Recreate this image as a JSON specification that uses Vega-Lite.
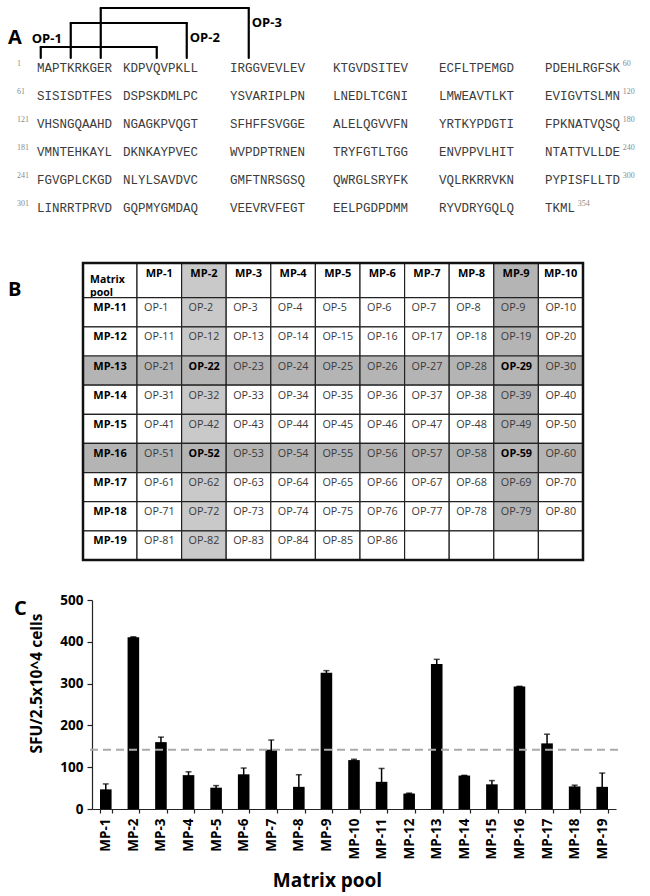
{
  "$schema": "https://vega.github.io/schema/vega-lite/v6.json",
  "width": 650,
  "height": 896,
  "autosize": "none",
  "padding": 0,
  "background": "white",
  "config": {"view": {"stroke": null}, "axis": {"grid": false}, "text": {"font": "Open Sans"}},
  "datasets": {
    "panels": [{"panel": "A", "order": 1}, {"panel": "B", "order": 2}, {"panel": "C", "order": 3}],
    "seq": [
      {"line": 0, "pos": 1, "seq": "MAPTKRKGER"}, {"line": 0, "pos": 11, "seq": "KDPVQVPKLL"}, {"line": 0, "pos": 21, "seq": "IRGGVEVLEV"}, {"line": 0, "pos": 31, "seq": "KTGVDSITEV"}, {"line": 0, "pos": 41, "seq": "ECFLTPEMGD"}, {"line": 0, "pos": 51, "seq": "PDEHLRGFSK"},
      {"line": 1, "pos": 1, "seq": "SISISDTFES"}, {"line": 1, "pos": 11, "seq": "DSPSKDMLPC"}, {"line": 1, "pos": 21, "seq": "YSVARIPLPN"}, {"line": 1, "pos": 31, "seq": "LNEDLTCGNI"}, {"line": 1, "pos": 41, "seq": "LMWEAVTLKT"}, {"line": 1, "pos": 51, "seq": "EVIGVTSLMN"},
      {"line": 2, "pos": 1, "seq": "VHSNGQAAHD"}, {"line": 2, "pos": 11, "seq": "NGAGKPVQGT"}, {"line": 2, "pos": 21, "seq": "SFHFFSVGGE"}, {"line": 2, "pos": 31, "seq": "ALELQGVVFN"}, {"line": 2, "pos": 41, "seq": "YRTKYPDGTI"}, {"line": 2, "pos": 51, "seq": "FPKNATVQSQ"},
      {"line": 3, "pos": 1, "seq": "VMNTEHKAYL"}, {"line": 3, "pos": 11, "seq": "DKNKAYPVEC"}, {"line": 3, "pos": 21, "seq": "WVPDPTRNEN"}, {"line": 3, "pos": 31, "seq": "TRYFGTLTGG"}, {"line": 3, "pos": 41, "seq": "ENVPPVLHIT"}, {"line": 3, "pos": 51, "seq": "NTATTVLLDE"},
      {"line": 4, "pos": 1, "seq": "FGVGPLCKGD"}, {"line": 4, "pos": 11, "seq": "NLYLSAVDVC"}, {"line": 4, "pos": 21, "seq": "GMFTNRSGSQ"}, {"line": 4, "pos": 31, "seq": "QWRGLSRYFK"}, {"line": 4, "pos": 41, "seq": "VQLRKRRVKN"}, {"line": 4, "pos": 51, "seq": "PYPISFLLTD"},
      {"line": 5, "pos": 1, "seq": "LINRRTPRVD"}, {"line": 5, "pos": 11, "seq": "GQPMYGMDAQ"}, {"line": 5, "pos": 21, "seq": "VEEVRVFEGT"}, {"line": 5, "pos": 31, "seq": "EELPGDPDMM"}, {"line": 5, "pos": 41, "seq": "RYVDRYGQLQ"}, {"line": 5, "pos": 51, "seq": "TKML"}
    ],
    "nums": [
      {"line": 0, "pos": 1, "num": "1", "side": "start"}, {"line": 0, "pos": 61, "num": "60", "side": "end"},
      {"line": 1, "pos": 1, "num": "61", "side": "start"}, {"line": 1, "pos": 61, "num": "120", "side": "end"},
      {"line": 2, "pos": 1, "num": "121", "side": "start"}, {"line": 2, "pos": 61, "num": "180", "side": "end"},
      {"line": 3, "pos": 1, "num": "181", "side": "start"}, {"line": 3, "pos": 61, "num": "240", "side": "end"},
      {"line": 4, "pos": 1, "num": "241", "side": "start"}, {"line": 4, "pos": 61, "num": "300", "side": "end"},
      {"line": 5, "pos": 1, "num": "301", "side": "start"}, {"line": 5, "pos": 55, "num": "354", "side": "end"}
    ],
    "peps": [
      {"op": "OP-1", "start": 1, "end": 15, "level": 1},
      {"op": "OP-2", "start": 5, "end": 19, "level": 2},
      {"op": "OP-3", "start": 9, "end": 23, "level": 3}
    ],
    "corner": [{"r": "Matrix pool", "c": "Matrix pool", "text": ["Matrix", "pool"]}],
    "colheads": [
      {"r": "Matrix pool", "c": "MP-1"}, {"r": "Matrix pool", "c": "MP-2"}, {"r": "Matrix pool", "c": "MP-3"}, {"r": "Matrix pool", "c": "MP-4"}, {"r": "Matrix pool", "c": "MP-5"},
      {"r": "Matrix pool", "c": "MP-6"}, {"r": "Matrix pool", "c": "MP-7"}, {"r": "Matrix pool", "c": "MP-8"}, {"r": "Matrix pool", "c": "MP-9"}, {"r": "Matrix pool", "c": "MP-10"}
    ],
    "rowheads": [
      {"r": "MP-11", "c": "Matrix pool"}, {"r": "MP-12", "c": "Matrix pool"}, {"r": "MP-13", "c": "Matrix pool"}, {"r": "MP-14", "c": "Matrix pool"}, {"r": "MP-15", "c": "Matrix pool"},
      {"r": "MP-16", "c": "Matrix pool"}, {"r": "MP-17", "c": "Matrix pool"}, {"r": "MP-18", "c": "Matrix pool"}, {"r": "MP-19", "c": "Matrix pool"}
    ],
    "body": [
      {"r": "MP-11", "c": "MP-1", "op": "OP-1"}, {"r": "MP-11", "c": "MP-2", "op": "OP-2"}, {"r": "MP-11", "c": "MP-3", "op": "OP-3"}, {"r": "MP-11", "c": "MP-4", "op": "OP-4"}, {"r": "MP-11", "c": "MP-5", "op": "OP-5"}, {"r": "MP-11", "c": "MP-6", "op": "OP-6"}, {"r": "MP-11", "c": "MP-7", "op": "OP-7"}, {"r": "MP-11", "c": "MP-8", "op": "OP-8"}, {"r": "MP-11", "c": "MP-9", "op": "OP-9"}, {"r": "MP-11", "c": "MP-10", "op": "OP-10"},
      {"r": "MP-12", "c": "MP-1", "op": "OP-11"}, {"r": "MP-12", "c": "MP-2", "op": "OP-12"}, {"r": "MP-12", "c": "MP-3", "op": "OP-13"}, {"r": "MP-12", "c": "MP-4", "op": "OP-14"}, {"r": "MP-12", "c": "MP-5", "op": "OP-15"}, {"r": "MP-12", "c": "MP-6", "op": "OP-16"}, {"r": "MP-12", "c": "MP-7", "op": "OP-17"}, {"r": "MP-12", "c": "MP-8", "op": "OP-18"}, {"r": "MP-12", "c": "MP-9", "op": "OP-19"}, {"r": "MP-12", "c": "MP-10", "op": "OP-20"},
      {"r": "MP-13", "c": "MP-1", "op": "OP-21"}, {"r": "MP-13", "c": "MP-2", "op": "OP-22"}, {"r": "MP-13", "c": "MP-3", "op": "OP-23"}, {"r": "MP-13", "c": "MP-4", "op": "OP-24"}, {"r": "MP-13", "c": "MP-5", "op": "OP-25"}, {"r": "MP-13", "c": "MP-6", "op": "OP-26"}, {"r": "MP-13", "c": "MP-7", "op": "OP-27"}, {"r": "MP-13", "c": "MP-8", "op": "OP-28"}, {"r": "MP-13", "c": "MP-9", "op": "OP-29"}, {"r": "MP-13", "c": "MP-10", "op": "OP-30"},
      {"r": "MP-14", "c": "MP-1", "op": "OP-31"}, {"r": "MP-14", "c": "MP-2", "op": "OP-32"}, {"r": "MP-14", "c": "MP-3", "op": "OP-33"}, {"r": "MP-14", "c": "MP-4", "op": "OP-34"}, {"r": "MP-14", "c": "MP-5", "op": "OP-35"}, {"r": "MP-14", "c": "MP-6", "op": "OP-36"}, {"r": "MP-14", "c": "MP-7", "op": "OP-37"}, {"r": "MP-14", "c": "MP-8", "op": "OP-38"}, {"r": "MP-14", "c": "MP-9", "op": "OP-39"}, {"r": "MP-14", "c": "MP-10", "op": "OP-40"},
      {"r": "MP-15", "c": "MP-1", "op": "OP-41"}, {"r": "MP-15", "c": "MP-2", "op": "OP-42"}, {"r": "MP-15", "c": "MP-3", "op": "OP-43"}, {"r": "MP-15", "c": "MP-4", "op": "OP-44"}, {"r": "MP-15", "c": "MP-5", "op": "OP-45"}, {"r": "MP-15", "c": "MP-6", "op": "OP-46"}, {"r": "MP-15", "c": "MP-7", "op": "OP-47"}, {"r": "MP-15", "c": "MP-8", "op": "OP-48"}, {"r": "MP-15", "c": "MP-9", "op": "OP-49"}, {"r": "MP-15", "c": "MP-10", "op": "OP-50"},
      {"r": "MP-16", "c": "MP-1", "op": "OP-51"}, {"r": "MP-16", "c": "MP-2", "op": "OP-52"}, {"r": "MP-16", "c": "MP-3", "op": "OP-53"}, {"r": "MP-16", "c": "MP-4", "op": "OP-54"}, {"r": "MP-16", "c": "MP-5", "op": "OP-55"}, {"r": "MP-16", "c": "MP-6", "op": "OP-56"}, {"r": "MP-16", "c": "MP-7", "op": "OP-57"}, {"r": "MP-16", "c": "MP-8", "op": "OP-58"}, {"r": "MP-16", "c": "MP-9", "op": "OP-59"}, {"r": "MP-16", "c": "MP-10", "op": "OP-60"},
      {"r": "MP-17", "c": "MP-1", "op": "OP-61"}, {"r": "MP-17", "c": "MP-2", "op": "OP-62"}, {"r": "MP-17", "c": "MP-3", "op": "OP-63"}, {"r": "MP-17", "c": "MP-4", "op": "OP-64"}, {"r": "MP-17", "c": "MP-5", "op": "OP-65"}, {"r": "MP-17", "c": "MP-6", "op": "OP-66"}, {"r": "MP-17", "c": "MP-7", "op": "OP-67"}, {"r": "MP-17", "c": "MP-8", "op": "OP-68"}, {"r": "MP-17", "c": "MP-9", "op": "OP-69"}, {"r": "MP-17", "c": "MP-10", "op": "OP-70"},
      {"r": "MP-18", "c": "MP-1", "op": "OP-71"}, {"r": "MP-18", "c": "MP-2", "op": "OP-72"}, {"r": "MP-18", "c": "MP-3", "op": "OP-73"}, {"r": "MP-18", "c": "MP-4", "op": "OP-74"}, {"r": "MP-18", "c": "MP-5", "op": "OP-75"}, {"r": "MP-18", "c": "MP-6", "op": "OP-76"}, {"r": "MP-18", "c": "MP-7", "op": "OP-77"}, {"r": "MP-18", "c": "MP-8", "op": "OP-78"}, {"r": "MP-18", "c": "MP-9", "op": "OP-79"}, {"r": "MP-18", "c": "MP-10", "op": "OP-80"},
      {"r": "MP-19", "c": "MP-1", "op": "OP-81"}, {"r": "MP-19", "c": "MP-2", "op": "OP-82"}, {"r": "MP-19", "c": "MP-3", "op": "OP-83"}, {"r": "MP-19", "c": "MP-4", "op": "OP-84"}, {"r": "MP-19", "c": "MP-5", "op": "OP-85"}, {"r": "MP-19", "c": "MP-6", "op": "OP-86"}, {"r": "MP-19", "c": "MP-7", "op": ""}, {"r": "MP-19", "c": "MP-8", "op": ""}, {"r": "MP-19", "c": "MP-9", "op": ""}, {"r": "MP-19", "c": "MP-10", "op": ""}
    ],
    "pools": [
      {"pool": "MP-1", "sfu": 47, "sd": 13}, {"pool": "MP-2", "sfu": 411, "sd": 1}, {"pool": "MP-3", "sfu": 160, "sd": 12},
      {"pool": "MP-4", "sfu": 81, "sd": 8}, {"pool": "MP-5", "sfu": 51, "sd": 5}, {"pool": "MP-6", "sfu": 83, "sd": 15},
      {"pool": "MP-7", "sfu": 142, "sd": 23}, {"pool": "MP-8", "sfu": 53, "sd": 29}, {"pool": "MP-9", "sfu": 326, "sd": 5},
      {"pool": "MP-10", "sfu": 117, "sd": 2}, {"pool": "MP-11", "sfu": 65, "sd": 32}, {"pool": "MP-12", "sfu": 37, "sd": 1},
      {"pool": "MP-13", "sfu": 347, "sd": 11}, {"pool": "MP-14", "sfu": 80, "sd": 0.5}, {"pool": "MP-15", "sfu": 59, "sd": 9},
      {"pool": "MP-16", "sfu": 293, "sd": 0.5}, {"pool": "MP-17", "sfu": 157, "sd": 22}, {"pool": "MP-18", "sfu": 54, "sd": 3},
      {"pool": "MP-19", "sfu": 53, "sd": 33}
    ],
    "threshold": [{"cutoff": 142}],
    "frame": [{"table": "matrix"}]
  },
  "layer": [
    {
      "data": {"name": "panels"},
      "mark": {"type": "text", "font": "Open Sans", "fontWeight": "bold", "fontSize": 20, "align": "left", "baseline": "middle", "color": "black"},
      "encoding": {
        "x": {"field": "order", "type": "quantitative", "scale": {"domain": [1, 2, 3], "range": [8, 8, 14], "nice": false, "zero": false}, "axis": null},
        "y": {"field": "order", "type": "quantitative", "scale": {"domain": [1, 2, 3], "range": [38, 290, 609], "nice": false, "zero": false}, "axis": null},
        "text": {"field": "panel"}
      }
    },
    {
      "encoding": {
        "x": {"field": "pos", "type": "quantitative", "scale": {"domain": [1, 10, 11, 20, 21, 30, 31, 40, 41, 50, 51, 61], "range": [40.75, 108.25, 126.75, 194.25, 233.75, 301.25, 336.75, 404.25, 442.75, 510.25, 548.75, 623.75], "nice": false, "zero": false}, "axis": null},
        "y": {"field": "line", "type": "quantitative", "scale": {"domain": [0, 5], "range": [68, 208], "nice": false, "zero": false}, "axis": null}
      },
      "layer": [
        {
          "data": {"name": "seq"},
          "mark": {"type": "text", "font": "Liberation Mono", "fontSize": 12.5, "align": "left", "baseline": "middle", "dx": -3.75, "color": "#3c3c3c"},
          "encoding": {"text": {"field": "seq"}}
        },
        {
          "data": {"name": "nums"},
          "transform": [{"filter": "datum.side == 'start'"}],
          "mark": {"type": "text", "font": "Liberation Serif", "fontSize": 8, "align": "left", "baseline": "middle", "dx": -23.75, "dy": -4, "color": "#8a8a8a"},
          "encoding": {"text": {"field": "num"}}
        },
        {
          "data": {"name": "nums"},
          "transform": [{"filter": "datum.side == 'end'"}],
          "mark": {"type": "text", "font": "Liberation Serif", "fontSize": 8, "align": "left", "baseline": "middle", "dx": -1, "dy": -4, "color": "#8a8a8a"},
          "encoding": {"text": {"field": "num"}}
        }
      ]
    },
    {
      "data": {"name": "peps"},
      "encoding": {
        "y": {"field": "level", "type": "quantitative", "scale": {"domain": [0, 1, 2, 3], "range": [58, 47, 23, 8], "nice": false, "zero": false}, "axis": null}
      },
      "layer": [
        {
          "mark": {"type": "rule", "color": "black", "strokeWidth": 2.2, "strokeCap": "round"},
          "encoding": {
            "x": {"field": "start", "type": "quantitative", "scale": {"domain": [1, 10, 11, 20, 21, 30, 31, 40, 41, 50, 51, 61], "range": [40.75, 108.25, 126.75, 194.25, 233.75, 301.25, 336.75, 404.25, 442.75, 510.25, 548.75, 623.75], "nice": false, "zero": false}, "axis": null},
            "y2": {"datum": 0}
          }
        },
        {
          "mark": {"type": "rule", "color": "black", "strokeWidth": 2.2, "strokeCap": "round"},
          "encoding": {
            "x": {"field": "end", "type": "quantitative", "axis": null},
            "y2": {"datum": 0}
          }
        },
        {
          "mark": {"type": "rule", "color": "black", "strokeWidth": 2.2, "strokeCap": "round"},
          "encoding": {
            "x": {"field": "start", "type": "quantitative", "axis": null},
            "x2": {"field": "end"}
          }
        },
        {
          "transform": [{"filter": "datum.op == 'OP-1'"}],
          "mark": {"type": "text", "font": "Open Sans", "fontWeight": "bold", "fontSize": 13, "align": "left", "baseline": "middle", "dx": -9, "dy": -8, "color": "black"},
          "encoding": {
            "x": {"field": "start", "type": "quantitative", "axis": null},
            "text": {"field": "op"}
          }
        },
        {
          "transform": [{"filter": "datum.op != 'OP-1'"}],
          "mark": {"type": "text", "font": "Open Sans", "fontWeight": "bold", "fontSize": 13, "align": "left", "baseline": "middle", "dx": 3, "dy": 15, "color": "black"},
          "encoding": {
            "x": {"field": "end", "type": "quantitative", "axis": null},
            "text": {"field": "op"}
          }
        }
      ]
    },
    {
      "data": {"name": "corner"},
      "encoding": {
        "x": {"field": "c", "type": "nominal", "scale": {"type": "band", "domain": ["Matrix pool"], "range": [83, 137], "paddingInner": 0, "paddingOuter": 0}, "axis": null},
        "y": {"field": "r", "type": "nominal", "scale": {"type": "band", "domain": ["Matrix pool"], "range": [263, 297.7], "paddingInner": 0, "paddingOuter": 0}, "axis": null}
      },
      "layer": [
        {"mark": {"type": "rect", "fill": "white", "stroke": "#222222", "strokeWidth": 1.2}},
        {
          "mark": {"type": "text", "font": "Open Sans", "fontWeight": "bold", "fontSize": 10.5, "align": "left", "baseline": "middle", "dx": 7, "lineHeight": 13, "color": "black"},
          "encoding": {"x": {"field": "c", "type": "nominal", "bandPosition": 0}, "text": {"field": "text"}}
        }
      ]
    },
    {
      "data": {"name": "colheads"},
      "encoding": {
        "x": {"field": "c", "type": "nominal", "sort": null, "scale": {"type": "band", "domain": ["MP-1", "MP-2", "MP-3", "MP-4", "MP-5", "MP-6", "MP-7", "MP-8", "MP-9", "MP-10"], "range": [137, 583], "paddingInner": 0, "paddingOuter": 0}, "axis": null},
        "y": {"field": "r", "type": "nominal", "scale": {"type": "band", "domain": ["Matrix pool"], "range": [263, 297.7], "paddingInner": 0, "paddingOuter": 0}, "axis": null}
      },
      "layer": [
        {
          "mark": {"type": "rect", "stroke": "#222222", "strokeWidth": 1.2},
          "encoding": {"fill": {"condition": [{"test": "datum.c == 'MP-2'", "value": "#c9c9c9"}, {"test": "datum.c == 'MP-9'", "value": "#b4b4b4"}], "value": "white"}}
        },
        {
          "mark": {"type": "text", "font": "Open Sans", "fontWeight": "bold", "fontSize": 11, "align": "center", "baseline": "middle", "dy": -6.5, "color": "black"},
          "encoding": {"text": {"field": "c"}}
        }
      ]
    },
    {
      "data": {"name": "rowheads"},
      "encoding": {
        "x": {"field": "c", "type": "nominal", "scale": {"type": "band", "domain": ["Matrix pool"], "range": [83, 137], "paddingInner": 0, "paddingOuter": 0}, "axis": null},
        "y": {"field": "r", "type": "nominal", "sort": null, "scale": {"type": "band", "domain": ["MP-11", "MP-12", "MP-13", "MP-14", "MP-15", "MP-16", "MP-17", "MP-18", "MP-19"], "range": [297.7, 560], "paddingInner": 0, "paddingOuter": 0}, "axis": null}
      },
      "layer": [
        {
          "mark": {"type": "rect", "stroke": "#222222", "strokeWidth": 1.2},
          "encoding": {"fill": {"condition": [{"test": "datum.r == 'MP-13' || datum.r == 'MP-16'", "value": "#b4b4b4"}], "value": "white"}}
        },
        {
          "mark": {"type": "text", "font": "Open Sans", "fontWeight": "bold", "fontSize": 11, "align": "center", "baseline": "middle", "dy": -4, "color": "black"},
          "encoding": {"text": {"field": "r"}}
        }
      ]
    },
    {
      "data": {"name": "body"},
      "encoding": {
        "x": {"field": "c", "type": "nominal", "sort": null, "scale": {"type": "band", "domain": ["MP-1", "MP-2", "MP-3", "MP-4", "MP-5", "MP-6", "MP-7", "MP-8", "MP-9", "MP-10"], "range": [137, 583], "paddingInner": 0, "paddingOuter": 0}, "axis": null},
        "y": {"field": "r", "type": "nominal", "sort": null, "scale": {"type": "band", "domain": ["MP-11", "MP-12", "MP-13", "MP-14", "MP-15", "MP-16", "MP-17", "MP-18", "MP-19"], "range": [297.7, 560], "paddingInner": 0, "paddingOuter": 0}, "axis": null}
      },
      "layer": [
        {
          "mark": {"type": "rect", "stroke": "#222222", "strokeWidth": 1.2},
          "encoding": {"fill": {"condition": [
            {"test": "datum.r == 'MP-13' || datum.r == 'MP-16'", "value": "#b4b4b4"},
            {"test": "datum.c == 'MP-9' && datum.op != ''", "value": "#b4b4b4"},
            {"test": "datum.c == 'MP-2' && datum.op != ''", "value": "#c9c9c9"}
          ], "value": "white"}}
        },
        {
          "transform": [{"filter": "!((datum.r == 'MP-13' || datum.r == 'MP-16') && (datum.c == 'MP-2' || datum.c == 'MP-9'))"}],
          "mark": {"type": "text", "font": "Open Sans", "fontSize": 10.8, "align": "left", "baseline": "middle", "dx": 7, "dy": -4, "color": "#3a3a3a"},
          "encoding": {"x": {"field": "c", "type": "nominal", "bandPosition": 0}, "text": {"field": "op"}}
        },
        {
          "transform": [{"filter": "(datum.r == 'MP-13' || datum.r == 'MP-16') && (datum.c == 'MP-2' || datum.c == 'MP-9')"}],
          "mark": {"type": "text", "font": "Open Sans", "fontWeight": "bold", "fontSize": 10.8, "align": "left", "baseline": "middle", "dx": 7, "dy": -4, "color": "black"},
          "encoding": {"x": {"field": "c", "type": "nominal", "bandPosition": 0}, "text": {"field": "op"}}
        }
      ]
    },
    {
      "data": {"name": "frame"},
      "mark": {"type": "rect", "fill": null, "fillOpacity": 0, "stroke": "#111111", "strokeWidth": 2.5},
      "encoding": {
        "x": {"datum": 0, "type": "quantitative", "scale": {"domain": [0, 1], "range": [83, 583], "nice": false, "zero": false}, "axis": null},
        "x2": {"datum": 1},
        "y": {"datum": 0, "type": "quantitative", "scale": {"domain": [0, 1], "range": [263, 560], "nice": false, "zero": false}, "axis": null},
        "y2": {"datum": 1}
      }
    },
    {
      "data": {"name": "pools"},
      "encoding": {
        "x": {
          "field": "pool", "type": "nominal", "sort": null,
          "scale": {"type": "band", "domain": ["MP-1", "MP-2", "MP-3", "MP-4", "MP-5", "MP-6", "MP-7", "MP-8", "MP-9", "MP-10", "MP-11", "MP-12", "MP-13", "MP-14", "MP-15", "MP-16", "MP-17", "MP-18", "MP-19"], "range": [92, 616], "paddingInner": 0.58, "paddingOuter": 0.29},
          "axis": {
            "orient": "bottom", "offset": -87, "title": "Matrix pool",
            "titleFont": "Open Sans", "titleFontSize": 19, "titleFontWeight": "bold", "titleColor": "black",
            "titleX": 327, "titleY": 71, "titleBaseline": "middle", "titleAlign": "center",
            "labelAngle": 270, "labelAlign": "right", "labelBaseline": "middle",
            "labelFont": "Open Sans", "labelFontSize": 13.5, "labelFontWeight": "bold", "labelColor": "black", "labelPadding": 5,
            "tickBand": "extent", "tickSize": 4, "tickColor": "#222222", "tickWidth": 1.2,
            "domainColor": "#222222", "domainWidth": 1.2, "grid": false
          }
        },
        "y": {
          "field": "sfu", "type": "quantitative",
          "scale": {"domain": [0, 500], "range": [809, 600], "nice": false, "zero": true},
          "axis": {
            "orient": "left", "offset": -92, "title": "SFU/2.5x10^4 cells",
            "titleFont": "Open Sans", "titleFontSize": 15.5, "titleFontWeight": "bold", "titleColor": "black",
            "titleX": -56, "titleY": 683, "titleAngle": 270, "titleAlign": "center", "titleBaseline": "middle",
            "values": [0, 100, 200, 300, 400, 500],
            "labelFont": "Open Sans", "labelFontSize": 13.5, "labelFontWeight": "bold", "labelColor": "black", "labelPadding": 4,
            "tickSize": 5, "tickColor": "#222222", "tickWidth": 1.2,
            "domainColor": "#222222", "domainWidth": 1.2, "grid": false
          }
        }
      },
      "layer": [
        {"mark": {"type": "bar", "color": "black"}},
        {
          "mark": {"type": "errorbar", "ticks": {"size": 6, "thickness": 1.5, "color": "black"}, "rule": {"strokeWidth": 1.5, "color": "black"}},
          "encoding": {"yError": {"field": "sd"}}
        }
      ]
    },
    {
      "data": {"name": "threshold"},
      "mark": {"type": "rule", "color": "#aaaaaa", "strokeWidth": 2, "strokeDash": [8, 5]},
      "encoding": {
        "y": {"field": "cutoff", "type": "quantitative", "scale": {"domain": [0, 500], "range": [809, 600], "nice": false, "zero": false}, "axis": null},
        "x": {"datum": 0, "type": "quantitative", "scale": {"domain": [0, 1], "range": [90, 619], "nice": false, "zero": false}, "axis": null},
        "x2": {"datum": 1}
      }
    }
  ],
  "resolve": {
    "scale": {"x": "independent", "y": "independent"},
    "axis": {"x": "independent", "y": "independent"}
  }
}
